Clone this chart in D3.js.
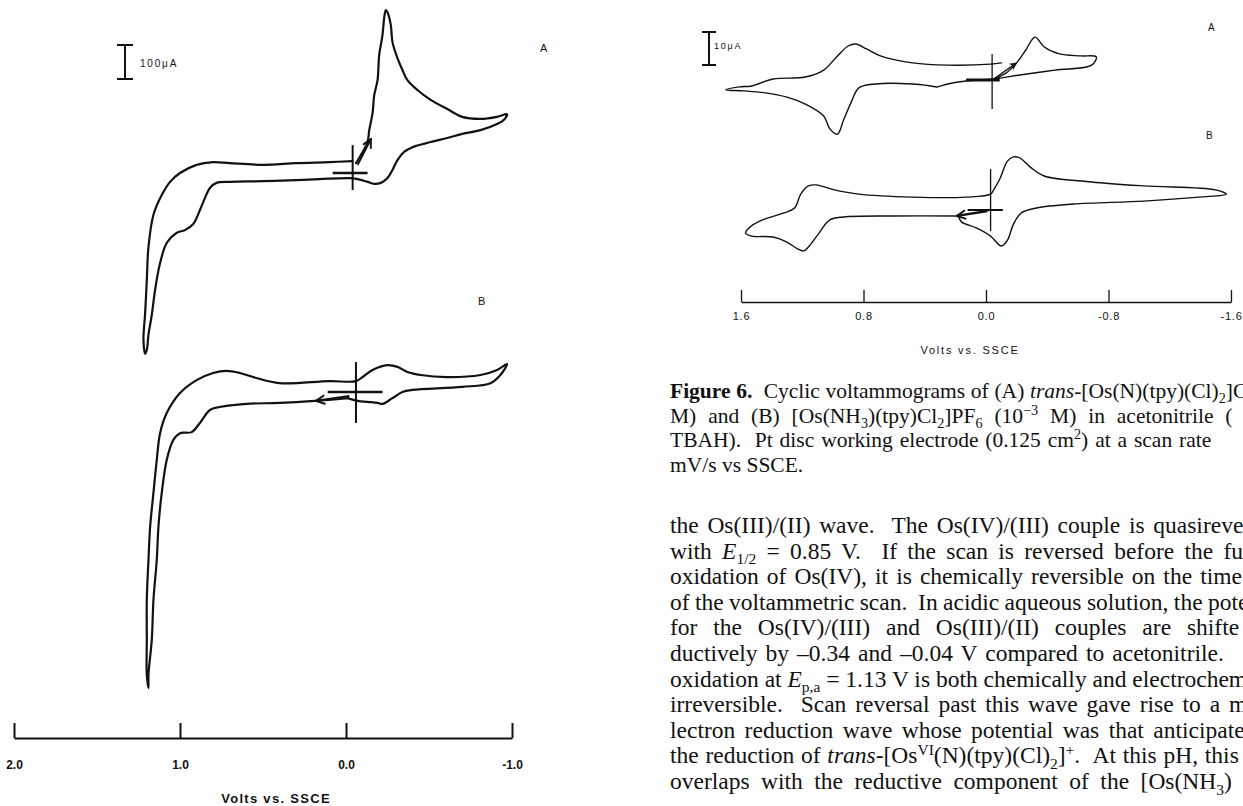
<!DOCTYPE html>
<html>
<head>
<meta charset="utf-8">
<script src="https://cdn.jsdelivr.net/npm/d3@7"></script>
<style>
  body { margin: 0; background: #fff; }
  svg { display: block; }
  .lab { font-family: "Liberation Sans", Arial, sans-serif; fill: #111; }
  .txt { font-family: "Liberation Serif", "Times New Roman", serif; fill: #111; white-space: pre; }
</style>
</head>
<body>
<svg id="chart" width="1243" height="806"></svg>
<script>
// potentials in V vs SSCE, currents in microamps
var leftTicks = [2.0, 1.0, 0.0, -1.0];
var rightTicks = [1.6, 0.8, 0.0, -0.8, -1.6];

// left figure, trace A (100 uA scale)
var leftA_V = [-0.06, -0.10, -0.13, -0.14, -0.16, -0.17, -0.19, -0.20, -0.22, -0.23, -0.24, -0.25, -0.27, -0.28, -0.31, -0.34, -0.37, -0.43, -0.51, -0.61, -0.70, -0.81, -0.91, -0.97, -0.95, -0.91, -0.81, -0.70, -0.61, -0.51, -0.40, -0.35, -0.31, -0.28, -0.25, -0.21, -0.17, -0.13, -0.07, -0.02, 0.16, 0.30, 0.50, 0.70, 0.78, 0.82, 0.85, 0.88, 0.92, 0.97, 1.02, 1.08, 1.12, 1.15, 1.17, 1.19, 1.20, 1.21, 1.22, 1.21, 1.20, 1.19, 1.16, 1.11, 1.06, 1.00, 0.90, 0.80, 0.70, 0.50, 0.30, 0.10, -0.04];
var leftA_I = [29, 62, 91, 126, 176, 229, 273, 347, 406, 456, 479, 473, 435, 385, 338, 303, 273, 244, 215, 188, 165, 159, 165, 173, 156, 144, 126, 115, 103, 91, 76, 62, 38, 9, -15, -29, -32, -26, -18, -15, -18, -21, -24, -26, -29, -44, -74, -109, -150, -168, -176, -206, -265, -344, -417, -476, -520, -532, -491, -412, -315, -218, -123, -65, -26, 0, 24, 32, 29, 24, 29, 32, 35];

// left figure, trace B
var leftB_V = [-0.01, 0.19, 0.40, 0.60, 0.76, 0.82, 0.88, 0.93, 1.00, 1.04, 1.08, 1.11, 1.13, 1.14, 1.16, 1.17, 1.19, 1.19, 1.20, 1.20, 1.20, 1.19, 1.18, 1.16, 1.14, 1.12, 1.08, 1.00, 0.90, 0.80, 0.72, 0.64, 0.54, 0.40, 0.10, -0.06, -0.10, -0.16, -0.25, -0.31, -0.37, -0.45, -0.61, -0.81, -0.91, -0.97, -0.93, -0.87, -0.70, -0.40, -0.34, -0.28, -0.22, -0.19, -0.13, -0.07, -0.01];
var leftB_I = [-18, -26, -32, -35, -44, -53, -91, -118, -121, -141, -200, -297, -397, -494, -612, -729, -832, -870, -832, -729, -612, -494, -397, -297, -200, -121, -62, -3, 35, 56, 62, 56, 41, 26, 32, 32, 44, 65, 79, 74, 59, 50, 44, 50, 65, 82, 50, 26, 15, 6, 0, -18, -35, -32, -29, -26, -18];

// right figure, trace A (10 uA scale)
var rightA_V = [-0.05, -0.13, -0.20, -0.26, -0.32, -0.38, -0.48, -0.62, -0.72, -0.69, -0.45, -0.22, -0.05, 0.13, 0.25, 0.32, 0.36, 0.48, 0.72, 0.83, 0.88, 0.93, 0.97, 1.02, 1.06, 1.18, 1.30, 1.44, 1.58, 1.70, 1.61, 1.53, 1.39, 1.18, 1.06, 0.97, 0.90, 0.85, 0.78, 0.69, 0.48, 0.25, -0.03, -0.10];
var rightA_I = [0.3, 2.1, 5.2, 9.1, 13.0, 10.0, 7.9, 7.3, 7.0, 4.5, 3.0, 1.5, 0.3, -0.3, -1.2, -2.1, -1.8, -1.2, -1.2, -2.4, -6.7, -12.1, -16.4, -14.8, -10.9, -7.3, -5.2, -3.9, -3.3, -3.0, -2.1, -1.8, 0.3, 0.9, 3.0, 7.3, 10.3, 10.9, 9.4, 7.3, 5.2, 4.5, 4.8, 5.2];

// right figure, trace B
var rightB_V = [0.18, 0.60, 0.93, 1.02, 1.10, 1.16, 1.19, 1.23, 1.30, 1.39, 1.53, 1.57, 1.55, 1.46, 1.32, 1.25, 1.21, 1.16, 1.11, 0.99, 0.83, 0.48, 0.13, -0.03, -0.05, -0.09, -0.14, -0.18, -0.22, -0.29, -0.38, -0.69, -1.03, -1.50, -1.57, -1.39, -1.03, -0.57, -0.33, -0.23, -0.18, -0.14, -0.10, -0.03, 0.06, 0.16, 0.18];
var rightB_I = [-1.8, -1.8, -2.1, -3.0, -7.6, -11.2, -12.4, -11.8, -9.7, -8.2, -7.9, -7.0, -5.5, -3.0, -0.9, 0.6, 4.8, 7.3, 7.6, 6.1, 4.8, 3.9, 3.9, 4.8, 6.1, 9.4, 14.8, 16.1, 15.8, 13.0, 10.3, 8.5, 7.3, 6.1, 4.8, 3.9, 2.7, 1.8, 0.6, -0.9, -4.2, -9.1, -10.9, -7.9, -5.5, -3.6, -1.8];

// start-potential crosshairs: [V, I top, I bottom, V left end, V right end]
var leftA_cross = [-0.04, 82, -50, 0.08, -0.13];
var leftB_cross = [-0.06, 88, -91, 0.11, -0.22];
var rightA_cross = [-0.04, 7.9, -8.8, 0.13, -0.09];
var rightB_cross = [-0.03, 12.4, -6.4, 0.12, -0.11];

// scan direction arrows: [V from, I from, V to, I to]
var leftA_arrow = [-0.07, 24, -0.15, 100];
var leftB_arrow = [-0.02, -12, 0.18, -26];
var rightA_arrow = [-0.05, 0.3, -0.20, 5.2];
var rightB_arrow = [-0.01, -0.3, 0.19, -1.8];

var leftBar = 100, rightBar = 10;

var captionLines = [
  [["Figure 6.", "B"], ["  Cyclic voltammograms of (A) "], ["trans", "I"], ["-[Os(N)(tpy)(Cl)"], ["2", "sub"], ["]C"]],
  [["M) and (B) [Os(NH"], ["3", "sub"], [")(tpy)Cl"], ["2", "sub"], ["]PF"], ["6", "sub"], [" (10"], ["\u22123", "sup"], [" M) in acetonitrile ("]],
  [["TBAH).  Pt disc working electrode (0.125 cm"], ["2", "sup"], [") at a scan rate "]],
  [["mV/s vs SSCE."]]
];
var captionSpacing = [0.3, 6.5, 1.5, 0];

var bodyLines = [
  [["the Os(III)/(II) wave.  The Os(IV)/(III) couple is quasireve"]],
  [["with "], ["E", "I"], ["1/2", "sub"], [" = 0.85 V.  If the scan is reversed before the fu"]],
  [["oxidation of Os(IV), it is chemically reversible on the time"]],
  [["of the voltammetric scan.  In acidic aqueous solution, the pote"]],
  [["for the Os(IV)/(III) and Os(III)/(II) couples are shifte"]],
  [["ductively by \u20130.34 and \u20130.04 V compared to acetonitrile."]],
  [["oxidation at "], ["E", "I"], ["p,a", "sub"], [" = 1.13 V is both chemically and electrochem"]],
  [["irreversible.  Scan reversal past this wave gave rise to a m"]],
  [["lectron reduction wave whose potential was that anticipate"]],
  [["the reduction of "], ["trans", "I"], ["-[Os"], ["VI", "sup"], ["(N)(tpy)(Cl)"], ["2", "sub"], ["]"], ["+", "sup"], [".  At this pH, this"]],
  [["overlaps with the reductive component of the [Os(NH"], ["3", "sub"], [")"]]
];
var bodySpacing = [2.8, 4.4, 2.2, -0.5, 10, 2.2, 0, 3, 3.5, 0.9, 5.6];

var svg = d3.select("#chart");

var xL = d3.scaleLinear().domain([2.0, -1.0]).range([14, 512]);
var yLA = d3.scaleLinear().domain([0, 100]).range([173, 139]);
var yLB = d3.scaleLinear().domain([0, 100]).range([392, 358]);
var xR = d3.scaleLinear().domain([1.6, -1.6]).range([741, 1231]);
var yRA = d3.scaleLinear().domain([0, 10]).range([80, 47]);
var yRB = d3.scaleLinear().domain([0, 10]).range([210, 177]);

var defs = svg.append("defs");
defs.append("marker").attr("id", "chev")
  .attr("viewBox", "0 0 10 10").attr("refX", 9).attr("refY", 5)
  .attr("markerWidth", 11).attr("markerHeight", 11)
  .attr("markerUnits", "userSpaceOnUse").attr("orient", "auto")
  .append("path").attr("d", "M1,1 L9,5 L1,9")
  .attr("fill", "none").attr("stroke", "#111").attr("stroke-width", 1.8);
defs.append("marker").attr("id", "tri")
  .attr("viewBox", "0 0 10 10").attr("refX", 9).attr("refY", 5)
  .attr("markerWidth", 8).attr("markerHeight", 8)
  .attr("markerUnits", "userSpaceOnUse").attr("orient", "auto")
  .append("path").attr("d", "M0,0 L10,5 L0,10 L3,5 Z").attr("fill", "#111");

function trace(V, I, x, y, w) {
  var pts = V.map(function(v, i) { return [x(v), y(I[i])]; });
  svg.append("path")
    .attr("d", d3.line().curve(d3.curveCatmullRom.alpha(0.5))(pts))
    .attr("fill", "none").attr("stroke", "#111").attr("stroke-width", w)
    .attr("stroke-linejoin", "round").attr("stroke-linecap", "round");
}

function cross(c, x, y, wv, wh) {
  svg.append("line").attr("x1", x(c[0])).attr("x2", x(c[0])).attr("y1", y(c[1])).attr("y2", y(c[2]))
    .attr("stroke", "#111").attr("stroke-width", wv);
  svg.append("line").attr("x1", x(c[3])).attr("x2", x(c[4])).attr("y1", y(0)).attr("y2", y(0))
    .attr("stroke", "#111").attr("stroke-width", wh);
}

function arrow(a, x, y, w, mk) {
  svg.append("line").attr("x1", x(a[0])).attr("y1", y(a[1])).attr("x2", x(a[2])).attr("y2", y(a[3]))
    .attr("stroke", "#111").attr("stroke-width", w).attr("marker-end", "url(#" + mk + ")");
}

function scaleBar(x0, top, y, amount, capW, label, lx, ly, size) {
  var h = y(0) - y(amount);
  svg.append("line").attr("x1", x0).attr("x2", x0).attr("y1", top).attr("y2", top + h)
    .attr("stroke", "#111").attr("stroke-width", 2);
  [top, top + h].forEach(function(yy) {
    svg.append("line").attr("x1", x0 - capW).attr("x2", x0 + capW).attr("y1", yy).attr("y2", yy)
      .attr("stroke", "#111").attr("stroke-width", 2);
  });
  svg.append("text").attr("class", "lab").attr("x", lx).attr("y", ly)
    .style("font-size", size + "px").style("letter-spacing", "1.8px").text(label);
}

// ---- left figure ----
trace(leftA_V, leftA_I, xL, yLA, 2.2);
trace(leftB_V, leftB_I, xL, yLB, 2.2);
cross(leftA_cross, xL, yLA, 2, 2.6);
cross(leftB_cross, xL, yLB, 2, 2.6);
arrow(leftA_arrow, xL, yLA, 2, "chev");
arrow(leftB_arrow, xL, yLB, 2.4, "chev");
scaleBar(125, 45, yLA, leftBar, 8, "100\u03bcA", 140, 67, 10);

svg.append("text").attr("class", "lab").attr("x", 540).attr("y", 52).style("font-size", "11px").text("A");
svg.append("text").attr("class", "lab").attr("x", 478).attr("y", 305).style("font-size", "11px").text("B");

var axL = d3.axisBottom(xL).tickValues(leftTicks).tickSize(-15).tickSizeOuter(0)
  .tickPadding(22).tickFormat(function(d) { return d.toFixed(1); });
var gL = svg.append("g").attr("transform", "translate(0,738)").call(axL)
  .attr("font-family", "Liberation Sans, Arial, sans-serif").attr("font-size", 12).attr("font-weight", "bold");
gL.select(".domain").attr("stroke", "#111").attr("stroke-width", 2);
gL.selectAll(".tick line").attr("stroke", "#111").attr("stroke-width", 2);
gL.selectAll(".tick text").attr("fill", "#111");

svg.append("text").attr("class", "lab").attr("x", 276).attr("y", 803)
  .attr("text-anchor", "middle").style("font-size", "13px").style("font-weight", "bold")
  .style("letter-spacing", "1.3px").text("Volts vs. SSCE");

// ---- right figure ----
trace(rightA_V, rightA_I, xR, yRA, 1.4);
trace(rightB_V, rightB_I, xR, yRB, 1.4);
cross(rightA_cross, xR, yRA, 1.3, 3);
cross(rightB_cross, xR, yRB, 1.3, 2.2);
arrow(rightA_arrow, xR, yRA, 1.4, "tri");
arrow(rightB_arrow, xR, yRB, 2.4, "chev");
scaleBar(709, 32, yRA, rightBar, 7, "10\u03bcA", 714, 49, 9);

svg.append("text").attr("class", "lab").attr("x", 1208).attr("y", 31).style("font-size", "10px").text("A");
svg.append("text").attr("class", "lab").attr("x", 1206).attr("y", 139).style("font-size", "10px").text("B");

var axR = d3.axisBottom(xR).tickValues(rightTicks).tickSize(-12).tickSizeOuter(0)
  .tickPadding(10).tickFormat(function(d) { return d.toFixed(1); });
var gR = svg.append("g").attr("transform", "translate(0,302)").call(axR)
  .attr("font-family", "Liberation Sans, Arial, sans-serif").attr("font-size", 11);
gR.select(".domain").attr("stroke", "#111").attr("stroke-width", 1.4);
gR.selectAll(".tick line").attr("stroke", "#111").attr("stroke-width", 1.3);
gR.selectAll(".tick text").attr("fill", "#111").style("letter-spacing", "0.8px");

svg.append("text").attr("class", "lab").attr("x", 970).attr("y", 354)
  .attr("text-anchor", "middle").style("font-size", "11px")
  .style("letter-spacing", "1.8px").text("Volts vs. SSCE");

// ---- caption and running text ----
function richLine(x, y, size, parts, ws) {
  var t = svg.append("text").attr("class", "txt").attr("x", x).attr("y", y)
    .style("font-size", size + "px").style("word-spacing", ws + "px");
  var shift = 0;
  parts.forEach(function(p) {
    var kind = p[1] || "";
    var s = t.append("tspan").text(p[0]);
    var target = kind === "sub" ? size * 0.25 : kind === "sup" ? -size * 0.36 : 0;
    if (target !== shift) { s.attr("dy", target - shift); shift = target; }
    if (kind === "sub" || kind === "sup") s.style("font-size", (size * 0.66) + "px");
    if (kind === "B") s.style("font-weight", "bold");
    if (kind === "I") s.style("font-style", "italic");
  });
}

captionLines.forEach(function(parts, i) {
  richLine(670, 398 + i * 24.5, 21.5, parts, captionSpacing[i]);
});
bodyLines.forEach(function(parts, i) {
  richLine(670, 533 + i * 25.6, 23.5, parts, bodySpacing[i]);
});
</script>
</body>
</html>
